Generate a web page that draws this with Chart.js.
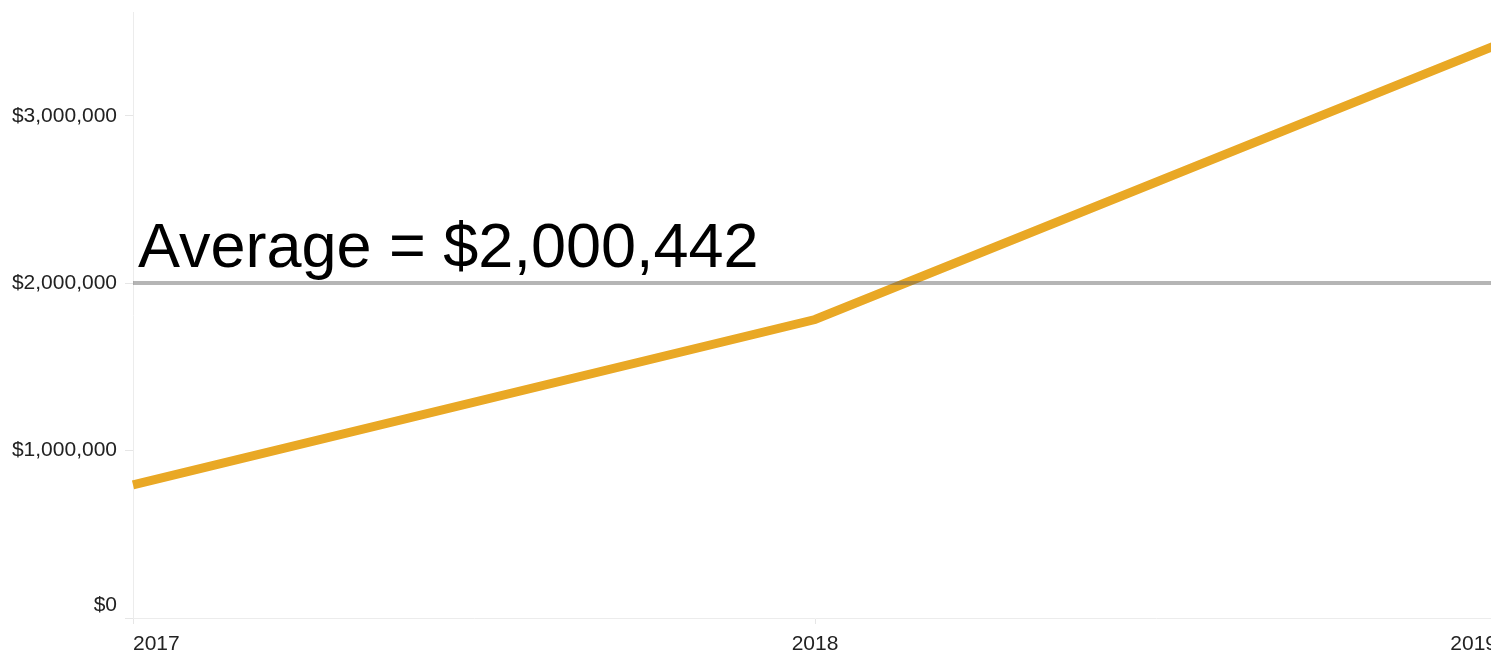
<!DOCTYPE html>
<html>
<head>
<meta charset="utf-8">
<script src="https://cdn.jsdelivr.net/npm/chart.js@4.4.1/dist/chart.umd.min.js"></script>
<style>
  html, body { margin: 0; padding: 0; background: #fff; overflow: hidden; }
  #wrap { width: 1500px; height: 660px; }
</style>
</head>
<body>
<div id="wrap"><canvas id="salesChart" width="1500" height="660"></canvas></div>
<script>
// yearly totals
const years = ['2017', '2018', '2019'];
const totals = [795000, 1783000, 3423326];
const yTicks = [0, 1000000, 2000000, 3000000];

const average = totals.reduce((a, b) => a + b, 0) / totals.length;
const fmt = v => '$' + Math.round(v).toLocaleString('en-US');

// horizontal reference line with its caption
const averageLine = {
    id: 'averageLine',
    afterDatasetsDraw(chart) {
        const { ctx, chartArea, scales } = chart;
        const y = scales.y.getPixelForValue(average);
        ctx.save();
        ctx.strokeStyle = 'rgba(90, 90, 90, 0.45)';
        ctx.lineWidth = 4;
        ctx.beginPath();
        ctx.moveTo(chartArea.left, y);
        ctx.lineTo(chartArea.right, y);
        ctx.stroke();

        ctx.fillStyle = '#000';
        ctx.font = '63px Arial, "Liberation Sans", sans-serif';
        ctx.textAlign = 'left';
        ctx.textBaseline = 'alphabetic';
        ctx.fillText('Average = ' + fmt(average), chartArea.left + 5, y - 16);
        ctx.restore();
    }
};

const tickFont = { family: 'Arial, "Liberation Sans", sans-serif', size: 21 };

new Chart(document.getElementById('salesChart').getContext('2d'), {
    type: 'line',
    data: {
        labels: years,
        datasets: [{
            data: totals,
            borderColor: '#e9a825',
            borderWidth: 9,
            pointRadius: 0,
            tension: 0,
            fill: false
        }]
    },
    options: {
        responsive: false,
        animation: false,
        layout: { padding: { top: 12, right: 3, left: 0, bottom: 0 } },
        plugins: {
            legend: { display: false },
            tooltip: { enabled: false }
        },
        scales: {
            x: {
                offset: false,
                grid: {
                    drawOnChartArea: false,
                    drawTicks: true,
                    tickLength: 6,
                    color: '#e6e6e6'
                },
                border: { color: '#ececec', width: 1 },
                ticks: {
                    align: 'inner',
                    padding: 8,
                    color: '#222',
                    font: tickFont,
                    maxRotation: 0
                },
                afterFit: s => {
                    s.height = 42;
                    s.paddingLeft = 0;
                    s.paddingRight = 0;
                }
            },
            y: {
                min: 0,
                max: 3620000,
                grid: {
                    drawOnChartArea: false,
                    drawTicks: true,
                    tickLength: 8,
                    color: '#e6e6e6'
                },
                border: { color: '#ececec', width: 1 },
                ticks: {
                    stepSize: 1000000,
                    padding: 8,
                    color: '#222',
                    font: tickFont,
                    // keep the $0 label clear of the x axis
                    callback: v => v === 0 ? ['$0', ''] : fmt(v)
                },
                afterBuildTicks: s => {
                    s.ticks = yTicks.map(v => ({ value: v }));
                },
                afterFit: s => {
                    s.width = 133;
                    s.paddingTop = 0;
                    s.paddingBottom = 0;
                }
            }
        }
    },
    plugins: [averageLine]
});
</script>
</body>
</html>
